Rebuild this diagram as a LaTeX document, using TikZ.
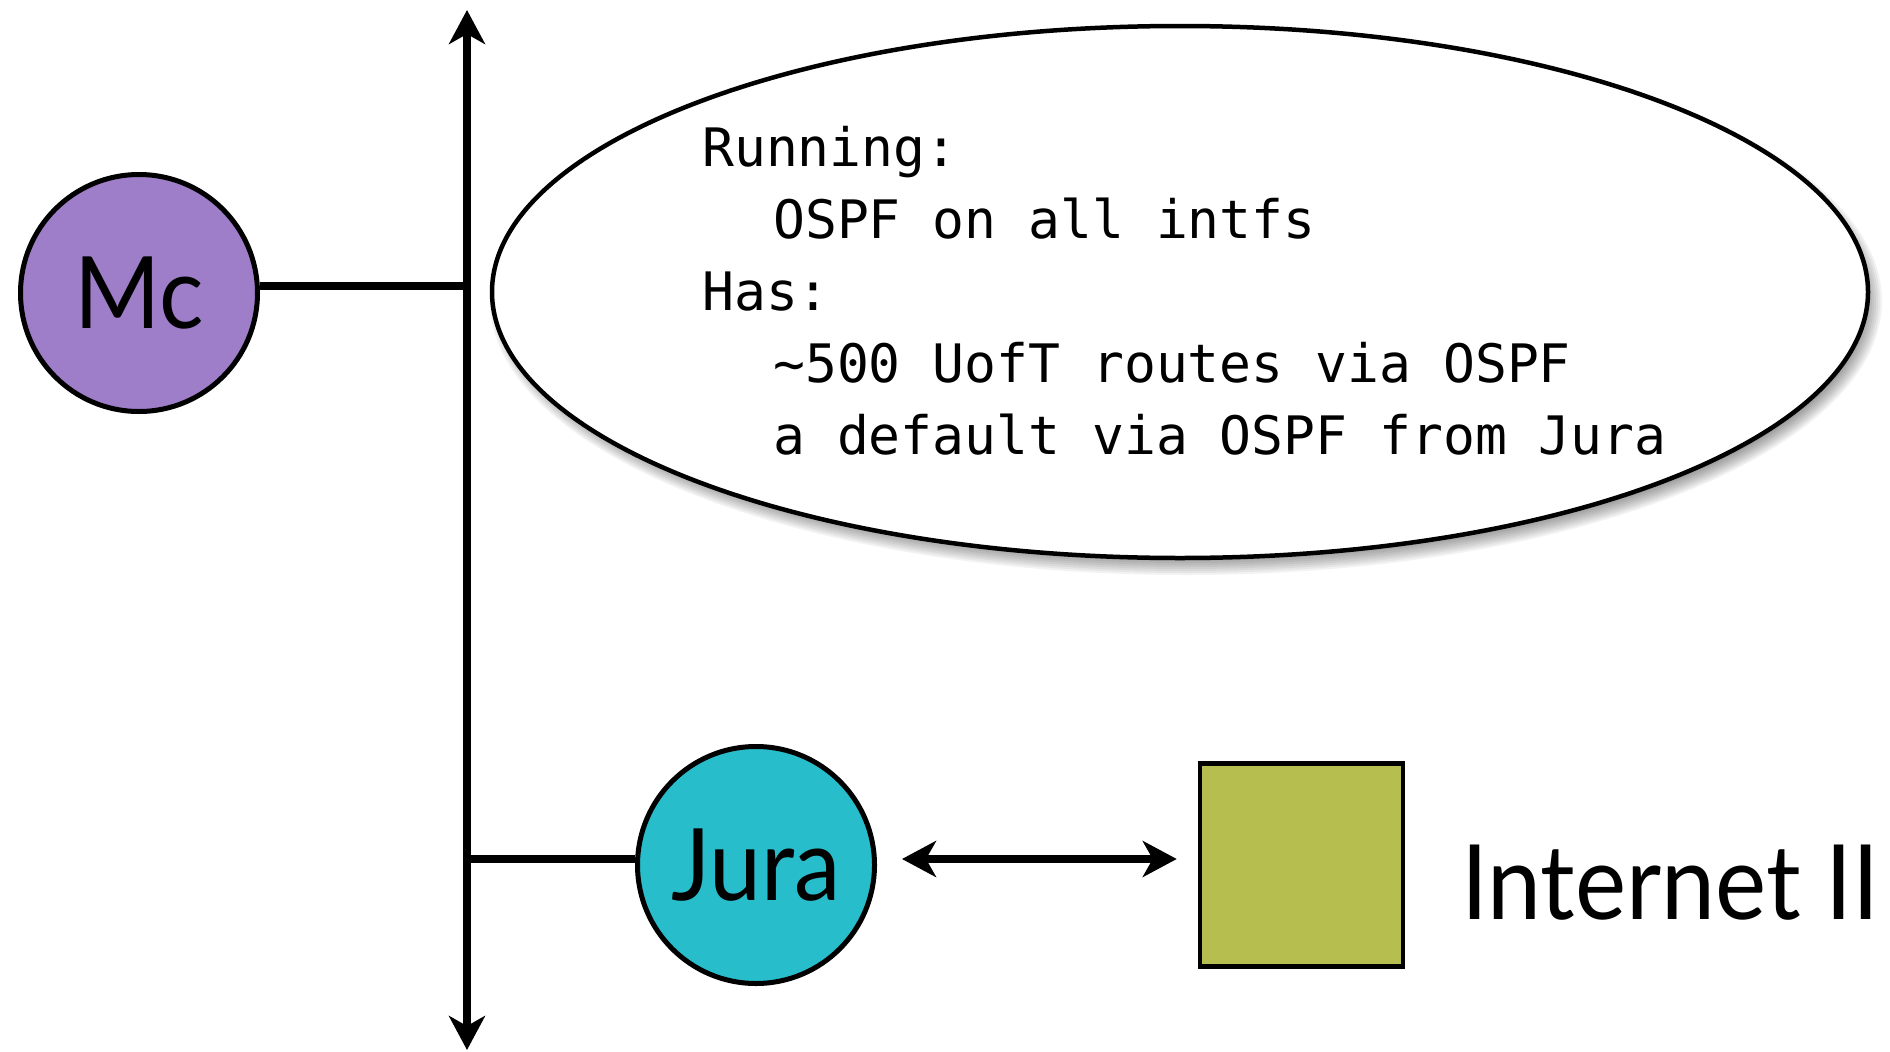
\documentclass[tikz,border=0pt]{standalone}
\usepackage{fontspec}
\setmonofont{DejaVu Sans Mono}
\newfontfamily\labelfont[FakeStretch=0.93]{Lato}
\usetikzlibrary{arrows.meta,shapes.geometric}
\definecolor{mcpurple}{RGB}{158,125,201}
\definecolor{jurateal}{RGB}{40,189,203}
\definecolor{netolive}{RGB}{182,190,80}
\tikzset{
  wire/.style={line width=7.5pt},
  biarrow/.style={{Stealth[length=34pt,width=36pt,inset=10pt]}-{Stealth[length=34pt,width=36pt,inset=10pt]}},
  router/.style={circle, draw, line width=5pt, minimum size=237pt, inner sep=0pt,
    font=\labelfont\fontsize{100}{100}\selectfont},
  monoline/.style={anchor=base west, inner sep=0pt, font=\ttfamily\fontsize{53}{53}\selectfont},
}
\begin{document}
\begin{tikzpicture}[x=1pt,y=-1pt]
\useasboundingbox (0,0) rectangle (1890,1052);

% soft shadow under the info bubble
\foreach \k in {0,2,...,16}
  \fill[black,opacity=0.05] (1186,301) ellipse [x radius={(680+\k)*1pt}, y radius={(258+\k)*1pt}];
\node[ellipse, draw, line width=4.5pt, fill=white, minimum width=1376pt,
      minimum height=532pt, inner sep=0pt] (info) at (1180,292) {};

\node[monoline] (run)    at (702,166) {Running:};
\node[monoline] (ospf)   at (773,238) {OSPF on all intfs};
\node[monoline] (has)    at (702,310) {Has:};
\node[monoline] (routes) at (773,382) {\textasciitilde500 UofT routes via OSPF};
\node[monoline] (dflt)   at (773,454) {a default via OSPF from Jura};

% routers and the upstream network
\node[router, fill=mcpurple] (mc) at (139,293) {Mc};
\node[router, fill=jurateal] (jura) at (756,865) {Jura};
\node[draw, line width=4.5pt, fill=netolive, minimum size=203pt, inner sep=0pt] (net) at (1301.5,865) {};
\node[anchor=base west, inner sep=0pt, font=\labelfont\fontsize{104}{104}\selectfont] (netlabel) at (1461,919) {Internet II};

% shared segment and taps
\coordinate (bustop) at (467,10);
\coordinate (busbot) at (467,1050);
\coordinate (tapmc) at (467,286);
\coordinate (tapjura) at (467,859);
\draw[wire, biarrow] (busbot) -- (bustop);
\draw[wire] (tapmc) -- (tapmc -| mc.east);
\draw[wire] (tapjura) -- (tapjura -| jura.west);
\draw[wire, biarrow, shorten <=25pt, shorten >=21pt] (tapjura -| jura.east) -- (tapjura -| net.west);
\end{tikzpicture}
\end{document}
